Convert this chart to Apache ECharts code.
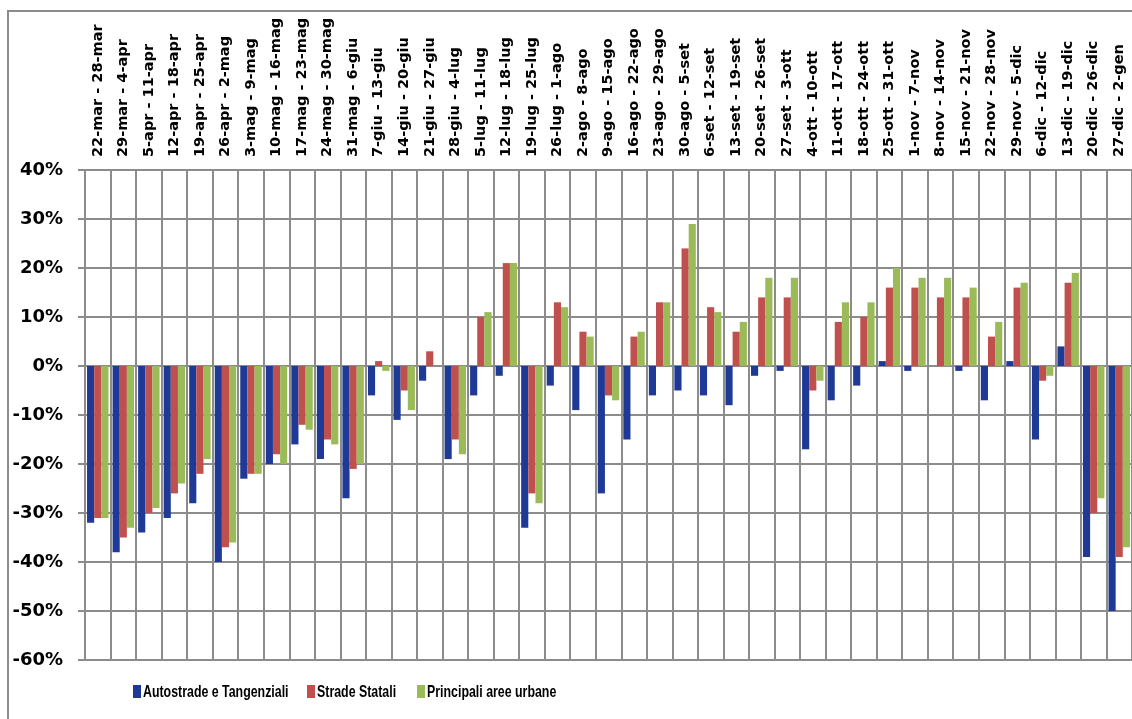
<!DOCTYPE html>
<html>
<head>
<meta charset="utf-8">
<script src="https://cdn.jsdelivr.net/npm/echarts@6/dist/echarts.min.js"></script>
<style>
html,body{margin:0;padding:0;background:#fff;}
#chart{width:1132px;height:719px;}
</style>
</head>
<body>
<div id="chart"></div>
<script>
const categories = [
  "22-mar - 28-mar", "29-mar - 4-apr", "5-apr - 11-apr", "12-apr - 18-apr", "19-apr - 25-apr",
  "26-apr - 2-mag", "3-mag - 9-mag", "10-mag - 16-mag", "17-mag - 23-mag", "24-mag - 30-mag",
  "31-mag - 6-giu", "7-giu - 13-giu", "14-giu - 20-giu", "21-giu - 27-giu", "28-giu - 4-lug",
  "5-lug - 11-lug", "12-lug - 18-lug", "19-lug - 25-lug", "26-lug - 1-ago", "2-ago - 8-ago",
  "9-ago - 15-ago", "16-ago - 22-ago", "23-ago - 29-ago", "30-ago - 5-set", "6-set - 12-set",
  "13-set - 19-set", "20-set - 26-set", "27-set - 3-ott", "4-ott - 10-ott", "11-ott - 17-ott",
  "18-ott - 24-ott", "25-ott - 31-ott", "1-nov - 7-nov", "8-nov - 14-nov", "15-nov - 21-nov",
  "22-nov - 28-nov", "29-nov - 5-dic", "6-dic - 12-dic", "13-dic - 19-dic", "20-dic - 26-dic",
  "27-dic - 2-gen"
];
const seriesNames = ["Autostrade e Tangenziali", "Strade Statali", "Principali aree urbane"];
const autostrade = [-32,-38,-34,-31,-28,-40,-23,-20,-16,-19,-27,-6,-11,-3,-19,-6,-2,-33,-4,-9,-26,-15,-6,-5,-6,-8,-2,-1,-17,-7,-4,1,-1,0,-1,-7,1,-15,4,-39,-50];
const stradeStatali = [-31,-35,-30,-26,-22,-37,-22,-18,-12,-15,-21,1,-5,3,-15,10,21,-26,13,7,-6,6,13,24,12,7,14,14,-5,9,10,16,16,14,14,6,16,-3,17,-30,-39];
const areeUrbane = [-31,-33,-29,-24,-19,-36,-22,-20,-13,-16,-20,-1,-9,0,-18,11,21,-28,12,6,-7,7,13,29,11,9,18,18,-3,13,13,20,18,18,16,9,17,-2,19,-27,-37];
const yMin = -60, yMax = 40, yStep = 10;
const colors = ["#1F3A96", "#C0504D", "#9BBB59"];

const chart = echarts.init(document.getElementById('chart'), null, {renderer: 'canvas'});
const gridColor = '#8C8C8C';

// Legend drawn as graphic items so the condensed bold text can be reproduced
const legendX = [133, 307, 417];
const legendGraphics = [];
seriesNames.forEach(function (name, i) {
  legendGraphics.push({
    type: 'rect', silent: true,
    shape: {x: legendX[i], y: 685, width: 8, height: 13},
    style: {fill: colors[i]}
  });
  legendGraphics.push({
    type: 'text', silent: true,
    x: legendX[i] + 10, y: 692, scaleX: 0.75,
    style: {
      text: name, fill: '#000',
      font: 'bold 16.5px "Liberation Sans", Arial, sans-serif',
      verticalAlign: 'middle', align: 'left'
    }
  });
});

const option = {
  animation: false,
  backgroundColor: '#ffffff',
  color: colors,
  graphic: [{
    type: 'polyline',
    shape: {points: [[8, 719], [8, 11], [1132, 11]]},
    style: {stroke: '#8C8C8C', lineWidth: 2, fill: null},
    silent: true
  }].concat(legendGraphics),
  grid: {left: 85, top: 170, width: 1048.6, height: 490, containLabel: false},
  legend: {show: false, data: seriesNames},
  xAxis: {
    type: 'category',
    position: 'top',
    data: categories,
    axisLine: {show: false, onZero: false},
    axisTick: {show: false},
    axisLabel: {
      interval: 0, rotate: -90, margin: 13,
      fontFamily: '"DejaVu Sans", sans-serif', fontWeight: 'bold', fontSize: 14.5, color: '#000'
    },
    splitLine: {show: true, interval: 0, lineStyle: {color: gridColor, width: 2}}
  },
  yAxis: {
    type: 'value',
    min: yMin, max: yMax, interval: yStep,
    axisLine: {show: true, lineStyle: {color: gridColor, width: 2}},
    axisTick: {show: true, length: 7, lineStyle: {color: gridColor, width: 2}},
    axisLabel: {
      formatter: '{value}%', margin: 22,
      fontFamily: '"DejaVu Sans", sans-serif', fontWeight: 'bold', fontSize: 18, color: '#000'
    },
    splitLine: {show: true, lineStyle: {color: gridColor, width: 2}}
  },
  series: [
    {name: seriesNames[0], type: 'bar', data: autostrade, barGap: '0%', barCategoryGap: '16%'},
    {name: seriesNames[1], type: 'bar', data: stradeStatali, barGap: '0%', barCategoryGap: '16%'},
    {name: seriesNames[2], type: 'bar', data: areeUrbane, barGap: '0%', barCategoryGap: '16%'}
  ]
};
chart.setOption(option);
</script>
</body>
</html>
